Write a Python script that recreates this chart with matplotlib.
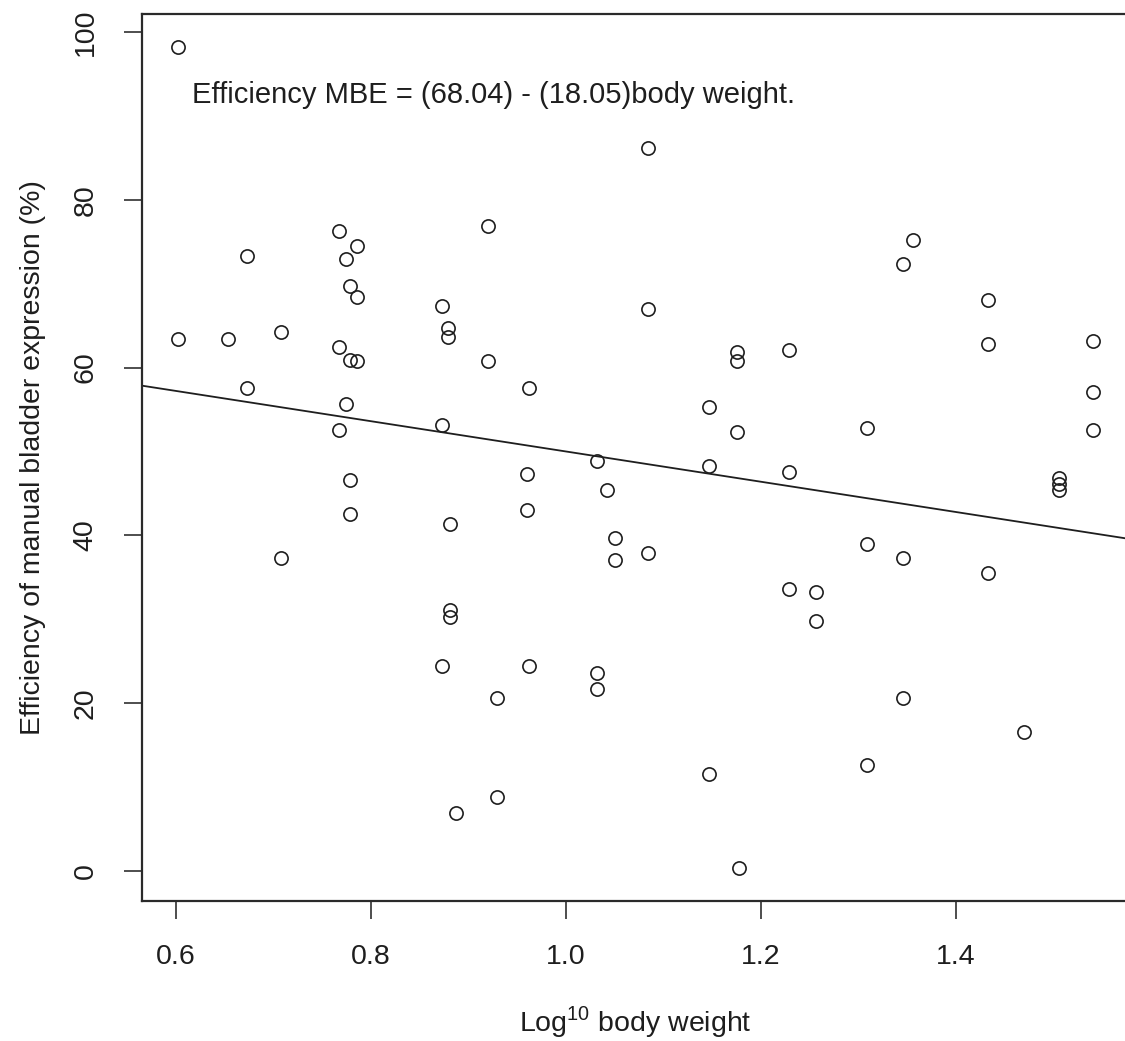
import numpy as np
import matplotlib
matplotlib.use("Agg")
import matplotlib.pyplot as plt

plt.rcParams['font.family'] = ['Liberation Sans', 'DejaVu Sans']

# log10 body weight and efficiency of manual bladder expression (%)
log_bw = [0.602, 0.6725, 0.7675, 0.786, 0.7744, 0.7785, 0.786, 0.9197, 0.8728, 0.879,
          0.879, 0.602, 0.653, 0.7077, 0.7675, 0.7785, 0.786, 0.9197, 0.9617, 0.6725,
          0.7744, 0.8728, 0.7675, 0.7785, 0.7785, 0.881, 0.7077, 0.881, 0.881, 0.8728,
          0.9617, 0.9295, 0.9295, 0.887, 0.9597, 0.9597,
          1.0838, 1.0838, 1.1757, 1.1757, 1.2285, 1.147, 1.1757, 1.0315, 1.147, 1.2285,
          1.0417, 1.0503, 1.0503, 1.0838, 1.2285, 1.2561, 1.2561, 1.0315, 1.0315, 1.147,
          1.177,
          1.3556, 1.3456, 1.4325, 1.4325, 1.5408, 1.5408, 1.5408, 1.3087, 1.506, 1.506,
          1.506, 1.3087, 1.3456, 1.4325, 1.3456, 1.4701, 1.3087]
mbe = [98.2, 73.35, 76.33, 74.5, 73.0, 69.74, 68.46, 76.9, 67.4, 64.7,
       63.6, 63.45, 63.4, 64.3, 62.4, 60.9, 60.8, 60.8, 57.6, 57.6,
       55.7, 53.2, 52.5, 46.56, 42.58, 41.3, 37.25, 31.1, 30.3, 24.37,
       24.37, 20.55, 8.78, 6.83, 47.3, 43.0,
       86.2, 67.0, 61.8, 60.8, 62.1, 55.3, 52.3, 48.9, 48.2, 47.6,
       45.4, 39.7, 37.0, 37.9, 33.6, 33.2, 29.8, 23.6, 21.7, 11.5,
       0.35,
       75.2, 72.4, 68.0, 62.8, 63.2, 57.05, 52.56, 52.76, 46.8, 46.1,
       45.4, 38.9, 37.3, 35.5, 20.55, 16.5, 12.6]

# fitted line
intercept = 68.04
slope = -18.05

x_ticks = [0.6, 0.8, 1.0, 1.2, 1.4]
y_ticks = [0, 20, 40, 60, 80, 100]

ink = '#1e1e1e'
fs = 20.5

fig = plt.figure(figsize=(11.25, 10.41), dpi=100)
ax = fig.add_axes([0.126, 0.1348, 0.878, 0.8518])

ax.plot(log_bw, mbe, 'o', mfc='none', mec=ink, ms=9.5, mew=1.2, zorder=3)
ax.axline((0, intercept), slope=slope, color=ink, lw=1.3, zorder=2)

ax.set_xlim(0.5648, 1.578)
ax.set_ylim(-3.59, 102.18)
ax.set_xticks(x_ticks)
ax.set_xticklabels(['%.1f' % v for v in x_ticks])
ax.set_yticks(y_ticks)
ax.set_yticklabels([str(v) for v in y_ticks], rotation=90, va='center')

ax.tick_params(direction='out', length=13, width=1.1, color=ink,
               labelsize=fs, labelcolor=ink, pad=18)
for s in ax.spines.values():
    s.set_color('#2a2a2a')
    s.set_linewidth(1.6)

ax.text(0.926, 92.5, 'Efficiency MBE = (68.04) - (18.05)body weight.',
        ha='center', va='center', fontsize=21, color=ink)

ax.set_xlabel(r'Log$^{\mathregular{10}}$ body weight', fontsize=fs, color=ink, va='top')
ax.set_ylabel('Efficiency of manual bladder expression (%)', fontsize=fs, color=ink)
ax.xaxis.set_label_coords(0.5, -0.117)
ax.yaxis.set_label_coords(-0.097, 0.5)

fig.savefig('out.png', dpi=100)
